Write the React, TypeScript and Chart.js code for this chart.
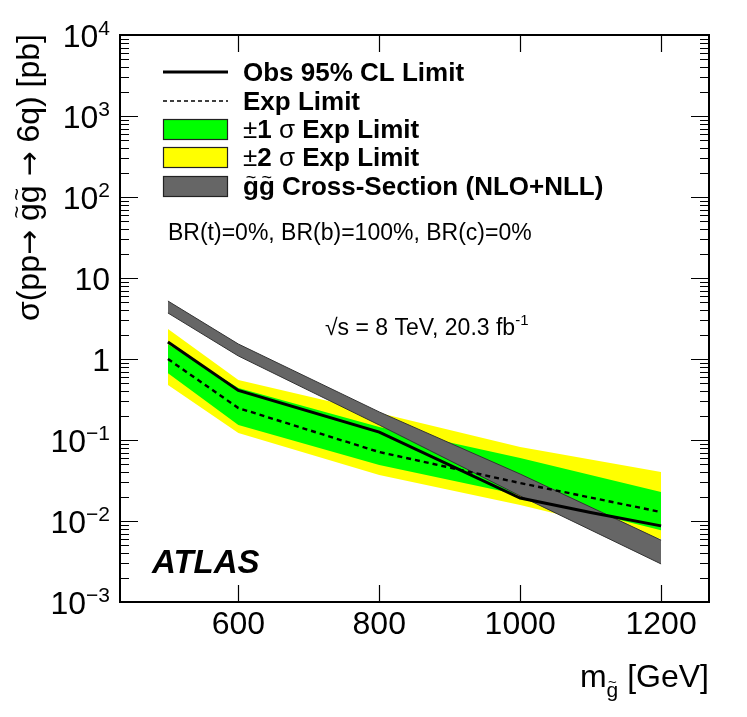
import React, { useEffect, useRef } from "react";
import { Chart, registerables } from "chart.js";

Chart.register(...registerables);

const W = 747;
const H = 717;

// ---- data (gluino mass in GeV, cross-section in pb) ----
const bandMass = [500, 600, 800, 1000, 1200];
const obsMass = [500, 600, 800, 1000, 1100, 1200];
const obsLimit = [1.62, 0.41, 0.125, 0.0192, 0.0127, 0.0087];
const expLimit = [1.0, 0.248, 0.071, 0.0294, 0.0129];
const oneSigmaUp = [1.52, 0.44, 0.145, 0.06, 0.0228];
const oneSigmaDown = [0.67, 0.153, 0.049, 0.021, 0.0077];
const twoSigmaUp = [2.35, 0.55, 0.216, 0.082, 0.0403];
const twoSigmaDown = [0.478, 0.122, 0.037, 0.0158, 0.006];
const xsecUp = [5.2, 1.53, 0.222, 0.038, 0.0058];
const xsecDown = [3.7, 1.09, 0.153, 0.0204, 0.00295];

const xTickValues = [600, 800, 1000, 1200];
const yDecades = [-3, -2, -1, 0, 1, 2, 3, 4];
const yTickBase = ["10", "10", "10", "1", "10", "10", "10", "10"];
const yTickExp = ["\u22123", "\u22122", "\u22121", "", "", "2", "3", "4"];

const FONT = "'Liberation Sans', Arial, Helvetica, sans-serif";
const ARROWFONT = "'DejaVu Sans', sans-serif";

type Seg = { t: string; f: string; size: number; dy?: number; tilde?: boolean };

function richWidth(ctx: CanvasRenderingContext2D, segs: Seg[]) {
  let w = 0;
  for (const s of segs) {
    ctx.font = s.f;
    w += ctx.measureText(s.t).width;
  }
  return w;
}

function drawRich(ctx: CanvasRenderingContext2D, x: number, y: number, segs: Seg[], align: "left" | "right") {
  const total = richWidth(ctx, segs);
  let cx = align === "right" ? x - total : x;
  ctx.textAlign = "left";
  ctx.textBaseline = "alphabetic";
  for (const s of segs) {
    ctx.font = s.f;
    const dy = s.dy || 0;
    ctx.fillText(s.t, cx, y + dy);
    if (s.tilde) {
      let ox = cx;
      for (const ch of s.t) {
        ctx.font = s.f;
        const cw = ctx.measureText(ch).width;
        if (ch === "g") {
          const tf = `${Math.round(s.size * 0.7)}px ${FONT}`;
          ctx.font = tf;
          const tw = ctx.measureText("~").width;
          ctx.fillText("~", ox + cw / 2 - tw / 2, y + dy - s.size * 0.47);
        }
        ox += cw;
      }
      ctx.font = s.f;
    }
    cx += ctx.measureText(s.t).width;
  }
}

function pts(xs: number[], ys: number[]) {
  return xs.map((x, i) => ({ x, y: ys[i] }));
}

const decorPlugin = {
  id: "rootDecor",
  afterDraw(chart: any) {
    const ctx: CanvasRenderingContext2D = chart.ctx;
    const xs = chart.scales.x;
    const ys = chart.scales.y;
    const { left, right, top, bottom } = chart.chartArea;
    ctx.save();
    ctx.fillStyle = "#000";
    ctx.strokeStyle = "#000";

    // frame
    ctx.lineWidth = 2;
    ctx.strokeRect(left, top, right - left, bottom - top);

    // x ticks (bottom and top, inward)
    ctx.lineWidth = 1.2;
    for (const v of xTickValues) {
      const px = Math.round(xs.getPixelForValue(v)) + 0.5;
      ctx.beginPath();
      ctx.moveTo(px, bottom);
      ctx.lineTo(px, bottom - 17);
      ctx.moveTo(px, top);
      ctx.lineTo(px, top + 17);
      ctx.stroke();
    }
    // y ticks (left and right, inward), log major + minor
    for (const d of yDecades) {
      const py = Math.round(ys.getPixelForValue(Math.pow(10, d))) + 0.5;
      ctx.beginPath();
      ctx.moveTo(left, py);
      ctx.lineTo(left + 18, py);
      ctx.moveTo(right, py);
      ctx.lineTo(right - 18, py);
      ctx.stroke();
      if (d < 4) {
        for (let m = 2; m <= 9; m++) {
          const pm = Math.round(ys.getPixelForValue(m * Math.pow(10, d))) + 0.5;
          ctx.beginPath();
          ctx.moveTo(left, pm);
          ctx.lineTo(left + 9, pm);
          ctx.moveTo(right, pm);
          ctx.lineTo(right - 9, pm);
          ctx.stroke();
        }
      }
    }

    // x tick labels
    ctx.font = `32px ${FONT}`;
    ctx.textAlign = "center";
    ctx.textBaseline = "alphabetic";
    for (const v of xTickValues) {
      ctx.fillText(String(v), xs.getPixelForValue(v), 634);
    }
    // y tick labels
    yDecades.forEach((d, i) => {
      const py = ys.getPixelForValue(Math.pow(10, d));
      const base = yTickBase[i];
      const sup = yTickExp[i];
      const xr = 110;
      ctx.textAlign = "left";
      ctx.font = `21px ${FONT}`;
      const ws = sup ? ctx.measureText(sup).width : 0;
      ctx.font = `32px ${FONT}`;
      const wb = ctx.measureText(base).width;
      ctx.fillText(base, xr - ws - wb, py + 12);
      if (sup) {
        ctx.font = `21px ${FONT}`;
        ctx.fillText(sup, xr - ws, py);
      }
    });

    // x axis title
    drawRich(
      ctx,
      right,
      687,
      [
        { t: "m", f: `32px ${FONT}`, size: 32 },
        { t: "g", f: `21px ${FONT}`, size: 21, dy: 10, tilde: true },
        { t: " [GeV]", f: `32px ${FONT}`, size: 32 },
      ],
      "right"
    );

    // y axis title (rotated)
    ctx.save();
    ctx.translate(39, top - 1);
    ctx.rotate(-Math.PI / 2);
    drawRich(
      ctx,
      0,
      0,
      [
        { t: "\u03c3(pp", f: `32px ${FONT}`, size: 32 },
        { t: "\u2192", f: `30px ${ARROWFONT}`, size: 30 },
        { t: " ", f: `32px ${FONT}`, size: 32 },
        { t: "gg", f: `32px ${FONT}`, size: 32, tilde: true },
        { t: " ", f: `32px ${FONT}`, size: 32 },
        { t: "\u2192", f: `30px ${ARROWFONT}`, size: 30 },
        { t: " 6q) [pb]", f: `32px ${FONT}`, size: 32 },
      ],
      "right"
    );
    ctx.restore();

    // legend
    const symL = 163;
    const symR = 228;
    const textX = 243;
    const rows = [72, 101, 129, 157, 186];
    const bold = `bold 26px ${FONT}`;
    const reg = `26px ${FONT}`;
    // obs
    ctx.lineWidth = 3;
    ctx.setLineDash([]);
    ctx.beginPath();
    ctx.moveTo(symL, rows[0]);
    ctx.lineTo(symR, rows[0]);
    ctx.stroke();
    // exp
    ctx.lineWidth = 1.6;
    ctx.setLineDash([4, 3]);
    ctx.beginPath();
    ctx.moveTo(symL, rows[1]);
    ctx.lineTo(symR, rows[1]);
    ctx.stroke();
    ctx.setLineDash([]);
    // boxes
    const boxes = [
      { r: rows[2], c: "#00ff00" },
      { r: rows[3], c: "#ffff00" },
      { r: rows[4], c: "#666666" },
    ];
    for (const b of boxes) {
      ctx.fillStyle = b.c;
      ctx.fillRect(symL, b.r - 10, symR - symL, 20);
      ctx.strokeStyle = "#222";
      ctx.lineWidth = 1.2;
      ctx.strokeRect(symL + 0.5, b.r - 10 + 0.5, symR - symL - 1, 20);
    }
    ctx.fillStyle = "#000";
    drawRich(ctx, textX, rows[0] + 9, [{ t: "Obs 95% CL Limit", f: bold, size: 26 }], "left");
    drawRich(ctx, textX, rows[1] + 9, [{ t: "Exp Limit", f: bold, size: 26 }], "left");
    drawRich(
      ctx,
      textX,
      rows[2] + 9,
      [
        { t: "\u00b1", f: reg, size: 26 },
        { t: "1 ", f: bold, size: 26 },
        { t: "\u03c3", f: reg, size: 26 },
        { t: " Exp Limit", f: bold, size: 26 },
      ],
      "left"
    );
    drawRich(
      ctx,
      textX,
      rows[3] + 9,
      [
        { t: "\u00b1", f: reg, size: 26 },
        { t: "2 ", f: bold, size: 26 },
        { t: "\u03c3", f: reg, size: 26 },
        { t: " Exp Limit", f: bold, size: 26 },
      ],
      "left"
    );
    drawRich(
      ctx,
      textX,
      rows[4] + 9,
      [
        { t: "gg", f: bold, size: 26, tilde: true },
        { t: " Cross-Section (NLO+NLL)", f: bold, size: 26 },
      ],
      "left"
    );

    // annotations
    drawRich(ctx, 168, 240, [{ t: "BR(t)=0%, BR(b)=100%, BR(c)=0%", f: `23px ${FONT}`, size: 23 }], "left");
    drawRich(
      ctx,
      325,
      335,
      [
        { t: "\u221as = 8 TeV, 20.3 fb", f: `23px ${FONT}`, size: 23 },
        { t: "-1", f: `15px ${FONT}`, size: 15, dy: -10 },
      ],
      "left"
    );
    drawRich(ctx, 152, 573, [{ t: "ATLAS", f: `italic bold 33px ${FONT}`, size: 33 }], "left");

    ctx.restore();
  },
};

export default function App() {
  const ref = useRef<HTMLCanvasElement | null>(null);
  useEffect(() => {
    if (!ref.current) return;
    const base = { pointRadius: 0, tension: 0, borderWidth: 0 };
    const chart = new Chart(ref.current, {
      type: "line",
      data: {
        datasets: [
          { ...base, label: "Obs 95% CL Limit", data: pts(obsMass, obsLimit), borderColor: "#000", borderWidth: 3, fill: false },
          { ...base, label: "Exp Limit", data: pts(bandMass, expLimit), borderColor: "#000", borderWidth: 2.4, borderDash: [5, 4], fill: false },
          { ...base, label: "xsec up", data: pts(bandMass, xsecUp), borderColor: "#333", borderWidth: 1, backgroundColor: "#666666", fill: "+1" },
          { ...base, label: "xsec down", data: pts(bandMass, xsecDown), borderColor: "#333", borderWidth: 1, fill: false },
          { ...base, label: "1 sigma up", data: pts(bandMass, oneSigmaUp), borderColor: "rgba(0,0,0,0)", backgroundColor: "#00ff00", fill: "+1" },
          { ...base, label: "1 sigma down", data: pts(bandMass, oneSigmaDown), borderColor: "rgba(0,0,0,0)", fill: false },
          { ...base, label: "2 sigma up", data: pts(bandMass, twoSigmaUp), borderColor: "rgba(0,0,0,0)", backgroundColor: "#ffff00", fill: "+1" },
          { ...base, label: "2 sigma down", data: pts(bandMass, twoSigmaDown), borderColor: "rgba(0,0,0,0)", fill: false },
        ],
      },
      options: {
        responsive: false,
        animation: false,
        devicePixelRatio: 1,
        layout: { padding: { left: 120, top: 35, right: 38, bottom: 115 } },
        scales: {
          x: { type: "linear", min: 432, max: 1268, display: false },
          y: { type: "logarithmic", min: 1e-3, max: 1e4, display: false },
        },
        plugins: {
          legend: { display: false },
          tooltip: { enabled: false },
          filler: { drawTime: "beforeDatasetsDraw" },
        },
        elements: { point: { radius: 0 }, line: { tension: 0 } },
      } as any,
      plugins: [decorPlugin],
    });
    return () => chart.destroy();
  }, []);
  return (
    <div style={{ position: "absolute", left: 0, top: 0, width: W, height: H, background: "#fff" }}>
      <canvas ref={ref} width={W} height={H} style={{ display: "block", width: W, height: H }} />
    </div>
  );
}
